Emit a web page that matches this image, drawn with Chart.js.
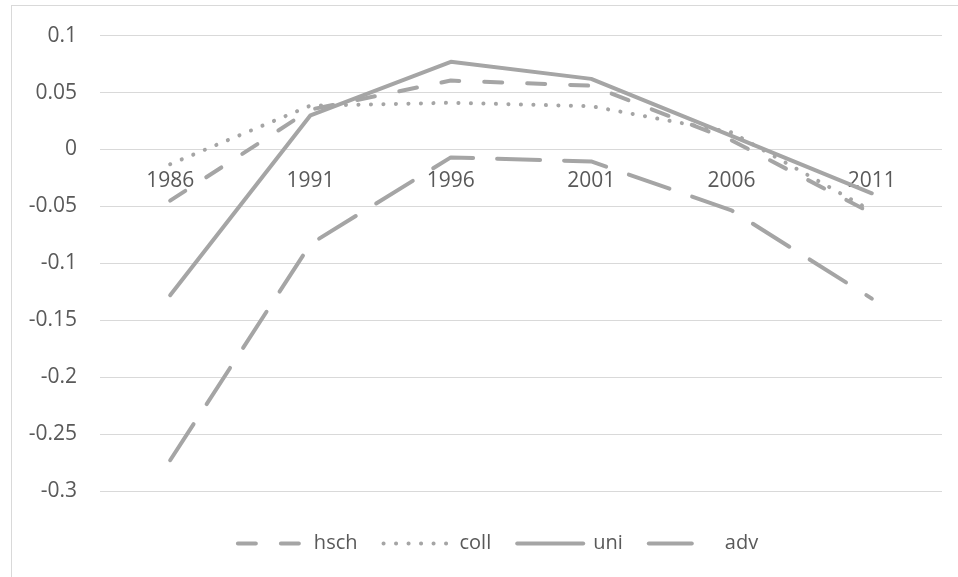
<!DOCTYPE html>
<html>
<head>
<meta charset="utf-8">
<script src="https://cdn.jsdelivr.net/npm/chart.js@4/dist/chart.umd.min.js"></script>
<style>
  html, body { margin: 0; padding: 0; background: #fff; }
  canvas { display: block; }
</style>
</head>
<body>
<canvas id="chart" width="958" height="577"></canvas>
<script>
const years = ["1986", "1991", "1996", "2001", "2006", "2011"];

const hsch = [-0.045, 0.035, 0.0605, 0.056, 0.008, -0.056];
const coll = [-0.013, 0.0385, 0.041, 0.038, 0.015, -0.054];
const uni = [-0.128, 0.030, 0.077, 0.062, 0.012, -0.0385];
const adv = [-0.273, -0.083, -0.007, -0.0105, -0.0535, -0.131];

// bottom to top, same order chart.js builds the ticks
const y_tick_labels = ["-0.3", "-0.25", "-0.2", "-0.15", "-0.1", "-0.05", "0", "0.05", "0.1"];

const line_grey = "#a5a5a5";
const text_grey = "#595959";
const grid_grey = "#d9d9d9";
const font_family = "'Open Sans', 'Noto Sans', sans-serif";

function make_dataset(label, values, dash) {
    return {
        label: label,
        data: values,
        borderColor: line_grey,
        backgroundColor: line_grey,
        borderWidth: 4,
        borderDash: dash,
        borderCapStyle: "round",
        borderJoinStyle: "round",
        pointRadius: 0,
        pointHoverRadius: 0,
        tension: 0,
        fill: false
    };
}

// legend items: a short line in the same dash as the series
function legend_labels(chart) {
    return chart.data.datasets.map((ds, i) => ({
        text: ds.label,
        datasetIndex: i,
        fillStyle: ds.borderColor,
        strokeStyle: ds.borderColor,
        lineWidth: ds.borderWidth,
        lineDash: ds.borderDash,
        lineCap: ds.borderCapStyle,
        lineJoin: "round",
        pointStyle: "line",
        fontColor: text_grey,
        hidden: false
    }));
}

// outer frame like the excel chart box
const frame_plugin = {
    id: "frame",
    beforeDraw(chart) {
        const ctx = chart.ctx;
        ctx.save();
        ctx.fillStyle = "#fff";
        ctx.fillRect(0, 0, chart.width, chart.height);
        ctx.strokeStyle = grid_grey;
        ctx.lineWidth = 1;
        ctx.strokeRect(11.5, 5.5, 1000, 1000);
        ctx.restore();
    }
};

// push the legend down / right a bit so it sits where excel puts it
const legend_shift = {
    id: "legendShift",
    afterLayout(chart) {
        const lg = chart.legend;
        if (!lg) return;
        lg.top += 16.5;
        lg.bottom += 16.5;
        lg.left += 27;
        lg.right += 27;
    }
};

new Chart(document.getElementById("chart"), {
    type: "line",
    data: {
        labels: years,
        datasets: [
            make_dataset("hsch", hsch, [18, 25]),
            make_dataset("coll", coll, [0.1, 12.4]),
            make_dataset("uni", uni, []),
            make_dataset("adv", adv, [43, 24])
        ]
    },
    options: {
        responsive: false,
        animation: false,
        devicePixelRatio: 1,
        layout: {
            padding: { left: 0, right: 16, top: 35, bottom: 30 }
        },
        plugins: {
            tooltip: { enabled: false },
            legend: {
                position: "bottom",
                labels: {
                    usePointStyle: true,
                    pointStyle: "line",
                    pointStyleWidth: 66,
                    boxWidth: 66,
                    padding: 26,
                    color: text_grey,
                    font: { family: font_family, size: 20 },
                    generateLabels: legend_labels
                }
            }
        },
        scales: {
            x: {
                position: { y: 0 },
                offset: true,
                grid: { display: false, drawTicks: false },
                border: { display: false },
                ticks: {
                    color: text_grey,
                    padding: 19,
                    maxRotation: 0,
                    font: { family: font_family, size: 21 }
                }
            },
            y: {
                min: -0.3,
                max: 0.1,
                afterFit(scale) {
                    scale.width = 100;
                },
                grid: { color: grid_grey, lineWidth: 1, drawTicks: false },
                border: { display: false },
                ticks: {
                    stepSize: 0.05,
                    padding: 23,
                    color: text_grey,
                    font: { family: font_family, size: 21 },
                    callback: (value, index) => y_tick_labels[index]
                }
            }
        }
    },
    plugins: [frame_plugin, legend_shift]
});
</script>
</body>
</html>
